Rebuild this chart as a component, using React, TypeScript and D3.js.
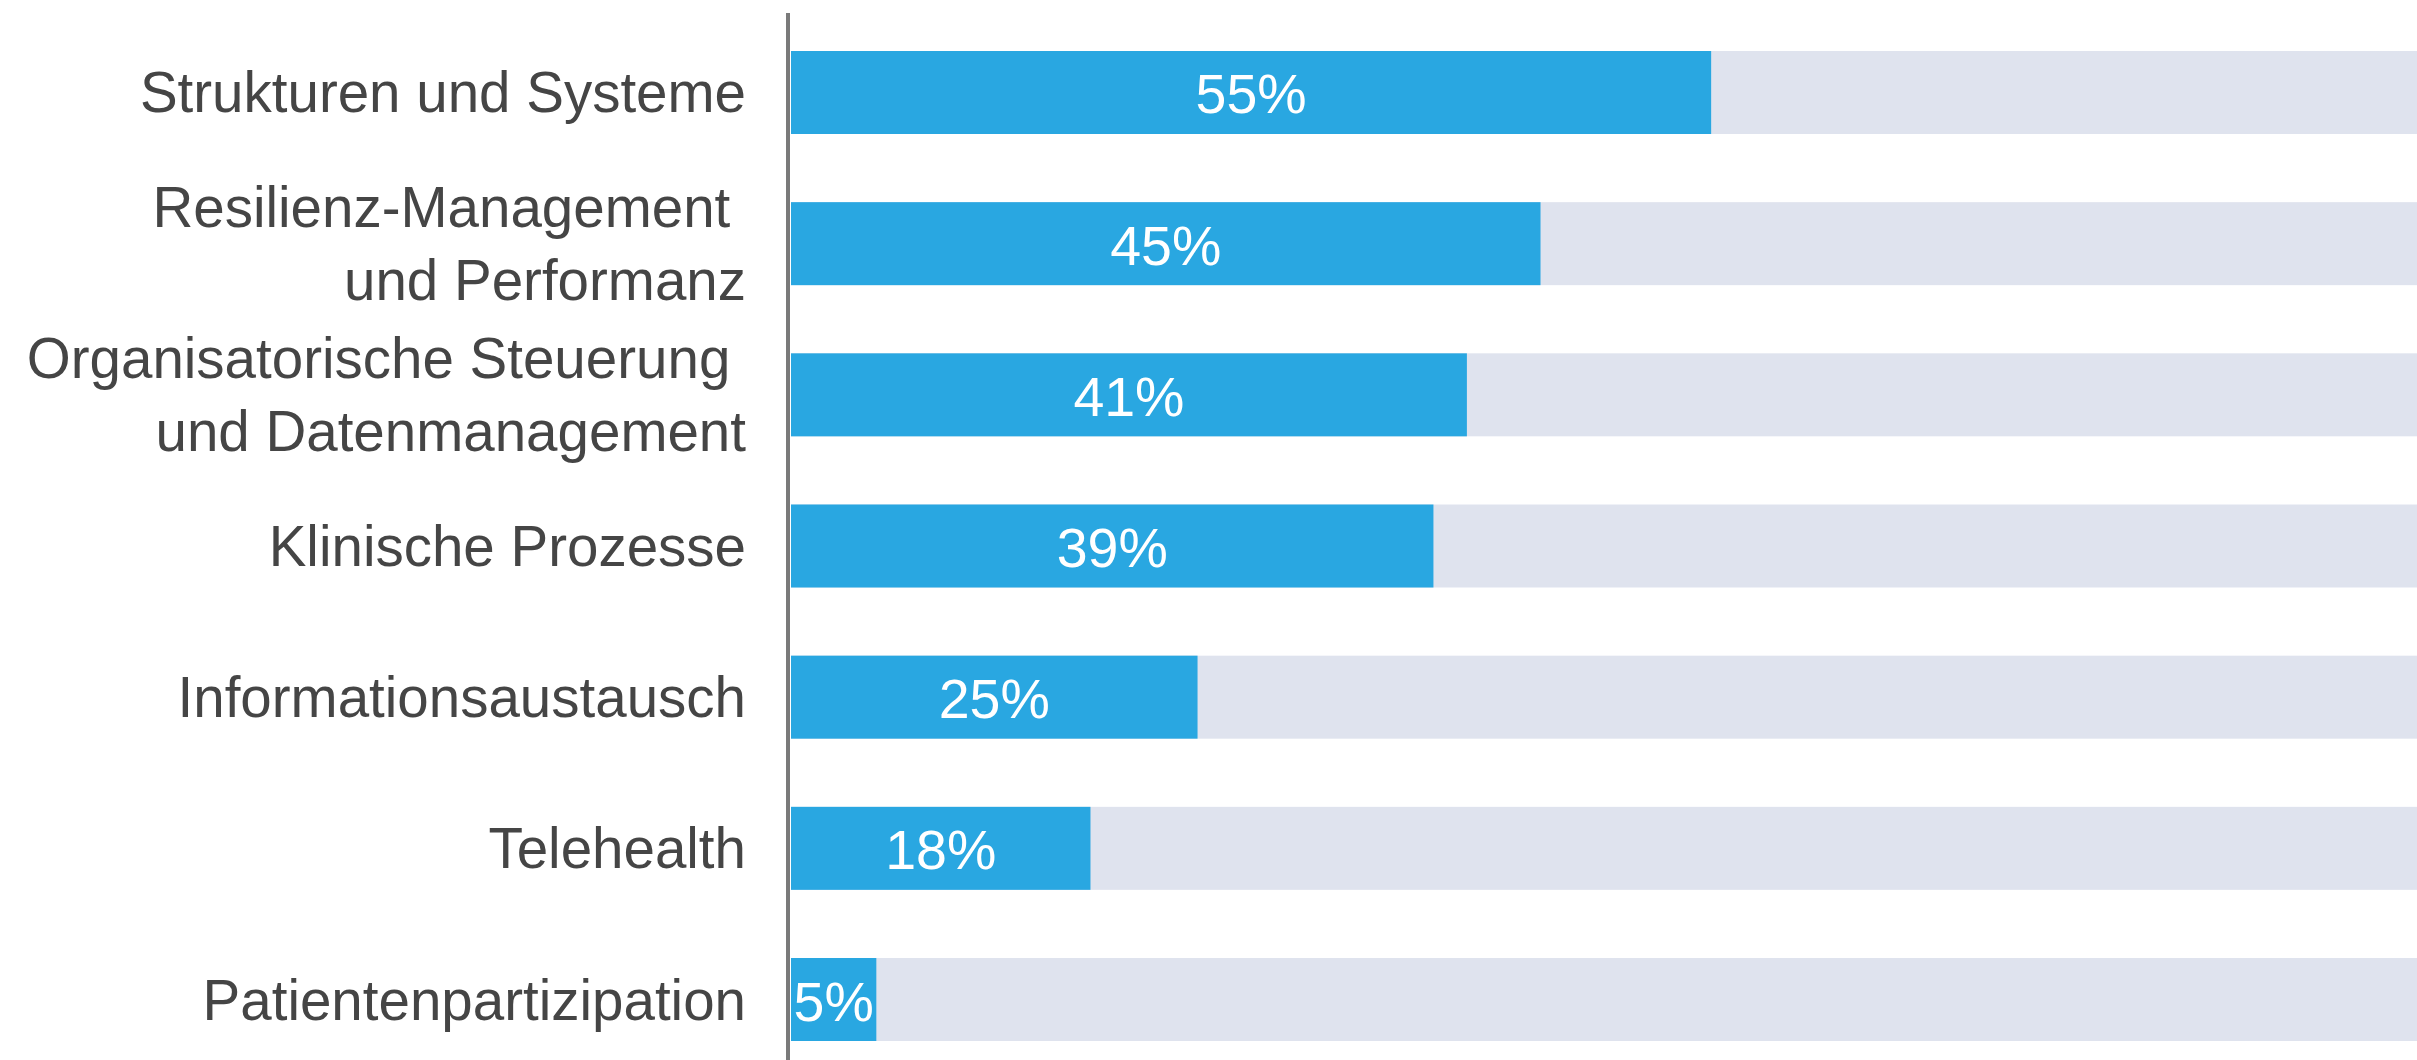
import { useEffect } from "react";
import * as d3 from "d3";

// bar lengths; labels are the printed percentages
const categories = [
  ["Strukturen und Systeme"],
  ["Resilienz-Management\u00a0", "und Performanz"],
  ["Organisatorische Steuerung\u00a0", "und Datenmanagement"],
  ["Klinische Prozesse"],
  ["Informationsaustausch"],
  ["Telehealth"],
  ["Patientenpartizipation"],
];
const values = [55, 44.8, 40.4, 38.4, 24.3, 17.9, 5.1];
const valueLabels = ["55%", "45%", "41%", "39%", "25%", "18%", "5%"];

const width = 2417;
const height = 1060;

export default function App() {
  useEffect(() => {
    document.body.style.margin = "0";
  }, []);

  const keys = categories.map((c) => c.join(" "));

  const x = d3.scaleLinear().domain([0, 100]).range([791, 791 + 1673]);
  const y = d3
    .scaleBand<string>()
    .domain(keys)
    .range([51, 1041])
    .paddingInner(0.451)
    .paddingOuter(0);

  const font = "'Liberation Sans', Arial, Helvetica, sans-serif";
  const lineH = 73;

  return (
    <svg width={width} height={height} style={{ display: "block", background: "#fff" }}>
      <g>
        {keys.map((k, i) => {
          const y0 = y(k)!;
          const cy = y0 + y.bandwidth() / 2;
          const lines = categories[i];
          return (
            <g key={k}>
              <rect x={x(0)} y={y0} width={x(100) - x(0)} height={y.bandwidth()} fill="#dfe3ee" />
              <rect x={x(0)} y={y0} width={x(values[i]) - x(0)} height={y.bandwidth()} fill="#29a7e1" />
              <text
                x={(x(0) + x(values[i])) / 2}
                y={cy + 21}
                textAnchor="middle"
                fontFamily={font}
                fontSize={55.5}
                fill="#ffffff"
              >
                {valueLabels[i]}
              </text>
              {lines.map((line, j) => (
                <text
                  key={j}
                  x={746}
                  y={cy + 22 - 2 + (j - (lines.length - 1) / 2) * lineH}
                  textAnchor="end"
                  fontFamily={font}
                  fontSize={56.5}
                  fill="#454545"
                >
                  {line}
                </text>
              ))}
            </g>
          );
        })}
      </g>
      <line x1={788} x2={788} y1={13} y2={height} stroke="#7a7a7a" strokeWidth={4} />
    </svg>
  );
}
